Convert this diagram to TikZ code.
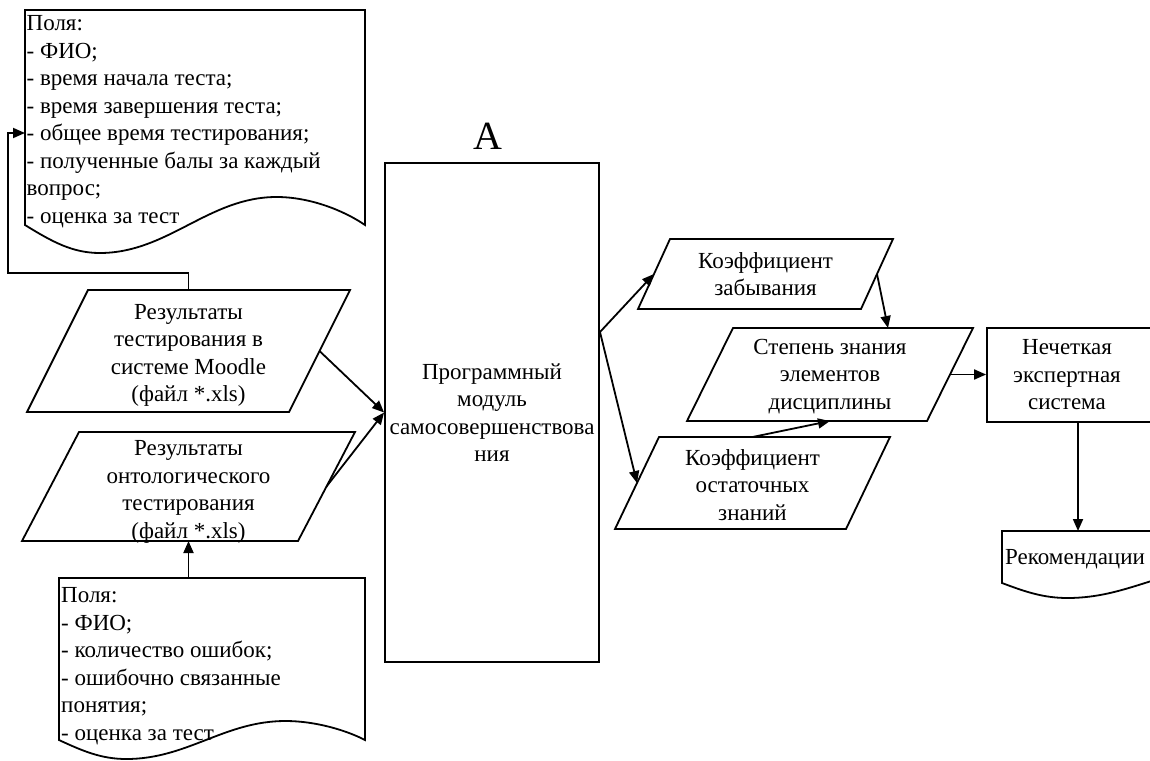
\documentclass[tikz,border=0pt]{standalone}
\usepackage{fontspec}
\setmainfont{Liberation Serif}
\usetikzlibrary{arrows.meta,calc}
\tikzset{
 shp/.style={draw=black, line width=1.8pt, line join=miter},
 arr/.style={line width=1.8pt, -{Triangle[length=12pt,width=10pt]}},
 txt/.style={font=\fontsize{23}{27.5}\selectfont, inner sep=0pt, align=center},
 ltxt/.style={font=\fontsize{23}{27.5}\selectfont, inner sep=0pt, align=left, anchor=north west},
}
\newcommand\parabox[8]{%
 \draw[shp] ({#2-#4/2+#6},{#3-#5/2}) -- ({#2+#4/2},{#3-#5/2}) -- ({#2+#4/2-#6},{#3+#5/2}) -- ({#2-#4/2},{#3+#5/2}) -- cycle;
 \node[txt] (#1) at (#2,{#3+#8}) {#7};
 \coordinate (#1-e) at ({#2+#4/2-#6/2},#3);
 \coordinate (#1-w) at ({#2-#4/2+#6/2},#3);
 \coordinate (#1-n) at (#2,{#3-#5/2});
 \coordinate (#1-s) at (#2,{#3+#5/2});
}
\newcommand\docshape[5]{%
 \draw[shp] (#1,#4) -- (#1,#2) -- (#3,#2) -- (#3,#4)
 .. controls ({#1+0.94*(#3-#1)},{#4-0.5*#5}) and ({#1+0.84*(#3-#1)},{#4-#5}) .. ({#1+0.74*(#3-#1)},{#4-#5})
 .. controls ({#1+0.54*(#3-#1)},{#4-#5}) and ({#1+0.42*(#3-#1)},{#4+#5}) .. ({#1+0.22*(#3-#1)},{#4+#5})
 .. controls ({#1+0.14*(#3-#1)},{#4+#5}) and ({#1+0.08*(#3-#1)},{#4+0.6*#5}) .. cycle;
}
\begin{document}
\begin{tikzpicture}[x=1pt,y=-1pt]
\path[use as bounding box] (0,0) rectangle (1150,760);
\clip (0,0) rectangle (1150,760);

% documents
\docshape{25}{10}{365}{225}{28}
\node[ltxt] (docA) at (26.5,15.5) {Поля:\\- ФИО;\\- время начала теста;\\- время завершения теста;\\- общее время тестирования;\\- полученные балы за каждый\\вопрос;\\- оценка за тест};
\coordinate (docA-w) at (25,133);

\docshape{59}{578}{365}{740}{19}
\node[ltxt] (docB) at (61,587.4) {Поля:\\- ФИО;\\- количество ошибок;\\- ошибочно связанные\\понятия;\\- оценка за тест};
\coordinate (docB-n) at (188.5,578);

\docshape{1002}{531}{1300}{583}{15}
\node[font=\fontsize{23}{27.5}\selectfont, inner sep=0pt, anchor=base west] (rec) at (1005,564.6) {Рекомендации};
\coordinate (rec-n) at (1078,531);

% parallelograms
\parabox{res1}{188.5}{351}{323}{122}{61}{Результаты\\тестирования в\\системе Moodle\\(файл *.xls)}{4.5}
\parabox{res2}{188.5}{486.5}{333}{109}{57}{Результаты\\онтологического\\тестирования\\(файл *.xls)}{5.5}
\parabox{zab}{765.5}{274}{255}{70}{32}{Коэффициент\\забывания}{0}
\parabox{step}{830}{374.5}{286}{93}{46}{Степень знания\\элементов\\дисциплины}{2}
\parabox{ost}{752.5}{483}{275}{92}{44}{Коэффициент\\остаточных\\знаний}{2}

% main module
\node[shp, txt, minimum width=214pt, minimum height=499pt] (main) at (492,412.5) {Программный\\модуль\\самосовершенствова\\ния};
\node[font=\fontsize{40}{48}\selectfont, inner sep=0pt] (lblA) at (488,136.5) {A};

% fuzzy system
\node[shp, minimum width=182pt, minimum height=94pt, inner sep=0pt] (fuzzy) at (1078,375) {};
\node[txt] (fuzzytxt) at (1067,375) {Нечеткая\\экспертная\\система};

% connectors
\coordinate (loop) at (8,273);
\draw[arr] (res1-n) |- (loop) |- (docA-w);
\draw[arr] (docB-n) -- (res2-s);
\draw[arr] (res1-e) -- (main.west);
\draw[arr] (res2-e) -- (main.west);
\coordinate (split) at (600,332);
\draw[arr] (split) -- (zab-w);
\draw[arr] (split) -- (ost-w);
\coordinate (step-in) at (888,328);
\draw[arr] (zab-e) -- (step-in);
\draw[arr] (ost-n) -- (step-s);
\draw[arr] (step-e) -- (step-e -| fuzzy.west);
\draw[arr] (fuzzy.south) -- (rec-n);
\end{tikzpicture}
\end{document}
